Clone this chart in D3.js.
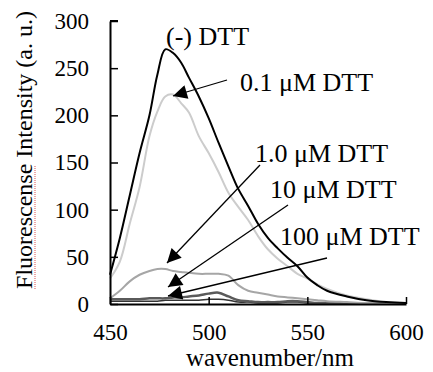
<!DOCTYPE html>
<html>
<head>
<meta charset="utf-8">
<script src="https://cdn.jsdelivr.net/npm/d3@7"></script>
<style>
  body { margin: 0; background: #fff; }
</style>
</head>
<body>
<svg id="chart" width="433" height="372"></svg>
<script>
// wavelengths (nm) shared by all spectra
const wavelengths = [450,455,460,465,470,474,478,482,486,490,495,500,505,510,515,520,525,530,535,540,545,550,555,560,570,580,590,600]

const noDTT   = [31,70,115,160,200,243,270,266,256,240,220,197,171,146,122,104,85,70,59,49,40,28,20,14,8,4,2,1]
const dtt01   = [27,45,85,124,178,204,220,222,213,203,178,160,140,118,103,89,72,58,48,40,32,27,21,16,9,5,2,1]
const dtt1    = [6,14,24,31,35,37,37,35,34,33,32,32,32,30,20,14,12,10,8,7,6,5,4,3,2,1,0.5,0.5]
const dtt10   = [5,5,5,5,6,6,6,7,7,8,9,11,12,8,4,3,2,2,2,3,3,2,1,1,0.5,0.5,0.5,0.5]
const dtt100  = [3,3,3,3,3,3,4,4,4,4,4,5,5,4,2,2,1,1,1,2,2,1,1,0.5,0.5,0.5,0.5,0.5]

const xTicks = [450, 500, 550, 600]
const yTicks = [0, 50, 100, 150, 200, 250, 300]

const series = [
  { name: "100 μM DTT", values: dtt100, color: "#333333", width: 1.5 },
  { name: "10 μM DTT",  values: dtt10,  color: "#5a5a5a", width: 2.5 },
  { name: "1.0 μM DTT", values: dtt1,   color: "#a6a6a6", width: 2 },
  { name: "0.1 μM DTT", values: dtt01,  color: "#cccccc", width: 2 },
  { name: "(-) DTT",    values: noDTT,  color: "#000000", width: 2 }
]

// annotation labels and arrows
const labels = [
  { text: "(-) DTT",    x: 166, y: 45 },
  { text: "0.1 μM DTT", x: 240, y: 91,  from: [227, 80],  to: [173, 96] },
  { text: "1.0 μM DTT", x: 255, y: 162, from: [260, 165], to: [167, 263] },
  { text: "10 μM DTT",  x: 270, y: 198, from: [288, 205], to: [168, 287] },
  { text: "100 μM DTT", x: 280, y: 245, from: [327, 258], to: [168, 296] }
]

const serif = "Liberation Serif"

const svg = d3.select("#chart")
  .attr("font-family", serif)

const x = d3.scaleLinear().domain([450, 600]).range([110, 406])
const y = d3.scaleLinear().domain([0, 300]).range([304, 21])

// spectra
const line = d3.line()
  .x((d, i) => x(wavelengths[i]))
  .y(d => y(d))
  .curve(d3.curveCatmullRom)

svg.append("g")
  .selectAll("path")
  .data(series)
  .enter()
  .append("path")
  .attr("d", d => line(d.values))
  .attr("fill", "none")
  .attr("stroke", d => d.color)
  .attr("stroke-width", d => d.width)
  .attr("stroke-linejoin", "round")

// axes, ticks pointing inward
const xAxis = svg.append("g")
  .attr("transform", `translate(0,${y(0)})`)
  .call(d3.axisBottom(x).tickValues(xTicks).tickSizeInner(-7).tickSizeOuter(0).tickPadding(20))
const yAxis = svg.append("g")
  .attr("transform", `translate(${x(450)},0)`)
  .call(d3.axisLeft(y).tickValues(yTicks).tickSizeInner(-8).tickSizeOuter(0).tickPadding(21))

for (const ax of [xAxis, yAxis]) {
  ax.attr("font-family", serif).attr("font-size", 23)
  ax.select(".domain").attr("stroke", "#000").attr("stroke-width", 2)
  ax.selectAll(".tick line").attr("stroke", "#000").attr("stroke-width", 1.5)
  ax.selectAll(".tick text").attr("fill", "#000")
}
yAxis.append("line").attr("x1", 0).attr("x2", 8).attr("y1", y(300)).attr("y2", y(300))
  .attr("stroke", "#000").attr("stroke-width", 2)

// axis titles
svg.append("text")
  .attr("x", 270)
  .attr("y", 366)
  .attr("text-anchor", "middle")
  .attr("font-size", 25)
  .text("wavenumber/nm")

const yTitle = svg.append("text")
  .attr("transform", "translate(32,150) rotate(-90)")
  .attr("text-anchor", "middle")
  .attr("font-size", 24)
  .text("Fluorescense Intensity (a. u.)")

// spell-check underline below "Fluorescense"
const titleLen = yTitle.node().getComputedTextLength()
svg.append("line")
  .attr("x1", 35).attr("x2", 35)
  .attr("y1", 150 + titleLen / 2)
  .attr("y2", 150 + titleLen / 2 - 124)
  .attr("stroke", "#e07070")
  .attr("stroke-width", 1.2)
  .attr("stroke-dasharray", "1,1")

// arrow head marker
svg.append("defs")
  .append("marker")
  .attr("id", "head")
  .attr("viewBox", "0 0 10 10")
  .attr("refX", 10).attr("refY", 5)
  .attr("markerWidth", 18).attr("markerHeight", 14)
  .attr("markerUnits", "userSpaceOnUse")
  .attr("orient", "auto")
  .append("path")
  .attr("d", "M0,0 L10,5 L0,10 Z")
  .attr("fill", "#000")

const ann = svg.append("g")
ann.selectAll("line")
  .data(labels.filter(d => d.from))
  .enter()
  .append("line")
  .attr("x1", d => d.from[0]).attr("y1", d => d.from[1])
  .attr("x2", d => d.to[0]).attr("y2", d => d.to[1])
  .attr("stroke", "#000")
  .attr("stroke-width", 1.3)
  .attr("marker-end", "url(#head)")

ann.selectAll("text")
  .data(labels)
  .enter()
  .append("text")
  .attr("x", d => d.x)
  .attr("y", d => d.y)
  .attr("font-size", 26)
  .text(d => d.text)
</script>
</body>
</html>
